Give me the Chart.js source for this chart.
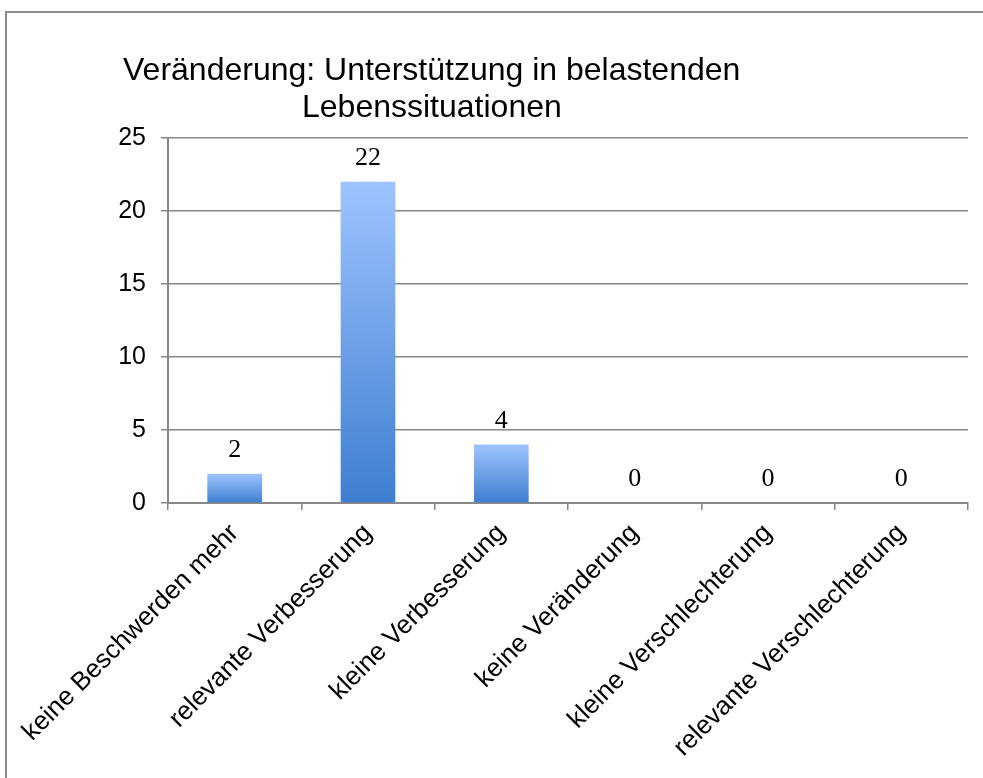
<!DOCTYPE html>
<html>
<head>
<meta charset="utf-8">
<script src="https://cdn.jsdelivr.net/npm/chart.js@4"></script>
<style>
  body { margin: 0; background: #fff; }
  #wrap { position: relative; width: 983px; height: 778px; overflow: hidden; }
  #frame { position: absolute; left: 5px; top: 11px; width: 1100px; height: 900px;
           border-left: 2px solid #8c8c8c; border-top: 2px solid #8c8c8c; }
  #myChart { position: absolute; left: 0; top: 0; }
</style>
</head>
<body>
<div id="wrap">
  <div id="frame"></div>
  <canvas id="myChart" width="983" height="778"></canvas>
</div>
<script>
const titleLines = ['Veränderung: Unterstützung in belastenden', 'Lebenssituationen'];
const categories = [
  'keine Beschwerden mehr',
  'relevante Verbesserung',
  'kleine Verbesserung',
  'keine Veränderung',
  'kleine Verschlechterung',
  'relevante Verschlechterung'
];
const counts = [2, 22, 4, 0, 0, 0];
const yTicks = [0, 5, 10, 15, 20, 25];

const sans = "'Liberation Sans', Arial, sans-serif";
const gridGray = '#878787';

// each bar gets its own light-to-dark gradient, like the Excel original
function barGradient(c) {
  const chart = c.chart;
  const y = chart.scales.y;
  if (!y || c.raw == null) return '#6a9de8';
  const top = y.getPixelForValue(c.raw);
  const base = y.getPixelForValue(0);
  if (!isFinite(top) || !isFinite(base) || base - top < 1) return '#6a9de8';
  const g = chart.ctx.createLinearGradient(0, top, 0, base);
  g.addColorStop(0, '#9ec4ff');
  g.addColorStop(1, '#3e7ed0');
  return g;
}

const titleText = {
  id: 'titleText',
  afterDraw(chart) {
    const ctx = chart.ctx;
    ctx.save();
    ctx.fillStyle = '#000';
    ctx.font = '32px ' + sans;
    ctx.textBaseline = 'alphabetic';
    ctx.fillText(titleLines[0], 123, 80);
    ctx.fillText(titleLines[1], 302, 117);
    ctx.restore();
  }
};

const valueLabels = {
  id: 'valueLabels',
  afterDatasetsDraw(chart) {
    const ctx = chart.ctx;
    const meta = chart.getDatasetMeta(0);
    ctx.save();
    ctx.fillStyle = '#000';
    ctx.font = "26px 'Liberation Serif', 'Times New Roman', serif";
    ctx.textAlign = 'center';
    ctx.textBaseline = 'alphabetic';
    meta.data.forEach((bar, i) => {
      ctx.fillText(String(counts[i]), bar.x, bar.y - 17);
    });
    ctx.restore();
  }
};

new Chart(document.getElementById('myChart'), {
  type: 'bar',
  data: {
    labels: categories,
    datasets: [{
      data: counts,
      backgroundColor: barGradient,
      borderWidth: 0,
      barPercentage: 0.41,
      categoryPercentage: 1
    }]
  },
  options: {
    responsive: false,
    animation: false,
    layout: { padding: { top: 138, right: 15, left: 0, bottom: 0 } },
    plugins: {
      legend: { display: false },
      title: { display: false },
      tooltip: { enabled: false }
    },
    scales: {
      x: {
        grid: { drawOnChartArea: false, drawTicks: true, tickLength: 7, color: gridGray, lineWidth: 1.5 },
        border: { display: true, color: gridGray, width: 2 },
        ticks: {
          color: '#000',
          font: { family: sans, size: 26 },
          maxRotation: 45,
          minRotation: 45,
          padding: 8,
          autoSkip: false
        },
        afterFit(s) { s.height = 275; }
      },
      y: {
        min: 0,
        max: 25,
        afterBuildTicks(s) { s.ticks = yTicks.map(v => ({ value: v })); },
        grid: { color: gridGray, lineWidth: 1.5, tickLength: 7 },
        border: { display: true, color: gridGray, width: 2 },
        ticks: {
          color: '#000',
          font: { family: sans, size: 25 },
          padding: 15
        },
        afterFit(s) { s.width = 168; }
      }
    }
  },
  plugins: [titleText, valueLabels]
});
</script>
</body>
</html>
